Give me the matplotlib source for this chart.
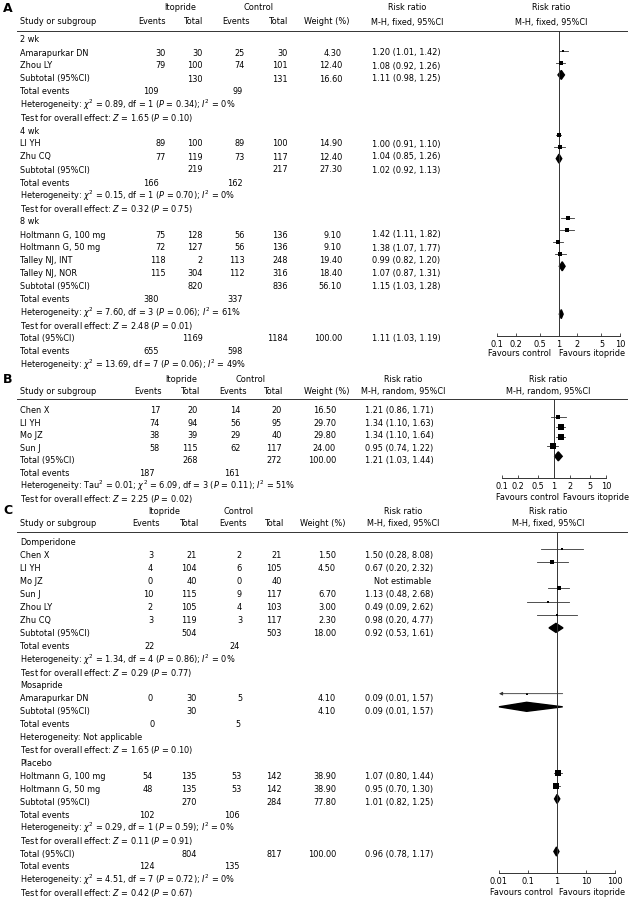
import numpy as np
import matplotlib.pyplot as plt
from matplotlib.patches import Polygon

plt.rcParams['font.family'] = ['DejaVu Sans']
plt.rcParams['mathtext.fontset'] = 'dejavusans'
FS = 5.85
LINE = '#333333'

# ---------------- Panel A: by duration ----------------
A_groups = ["2 wk", "4 wk", "8 wk"]
A_study = [["Amarapurkar DN", "Zhou LY"], ["LI YH", "Zhu CQ"],
           ["Holtmann G, 100 mg", "Holtmann G, 50 mg", "Talley NJ, INT", "Talley NJ, NOR"]]
A_ev_ito = [[30, 79], [89, 77], [75, 72, 118, 115]]
A_n_ito = [[30, 100], [100, 119], [128, 127, 2, 304]]
A_ev_ctl = [[25, 74], [89, 73], [56, 56, 113, 112]]
A_n_ctl = [[30, 101], [100, 117], [136, 136, 248, 316]]
A_weight = [[4.30, 12.40], [14.90, 12.40], [9.10, 9.10, 19.40, 18.40]]
A_rr = [[1.20, 1.08], [1.00, 1.04], [1.42, 1.38, 0.99, 1.07]]
A_lo = [[1.01, 0.92], [0.91, 0.85], [1.11, 1.07, 0.82, 0.87]]
A_hi = [[1.42, 1.26], [1.10, 1.26], [1.82, 1.77, 1.20, 1.31]]
A_sub_n = [(130, 131), (219, 217), (820, 836)]
A_sub_w = [16.60, 27.30, 56.10]
A_sub_rr = [(1.11, 0.98, 1.25), (1.02, 0.92, 1.13), (1.15, 1.03, 1.28)]
A_sub_ev = [(109, 99), (166, 162), (380, 337)]
A_het = [(0.89, 1, 0.34, 0), (0.15, 1, 0.70, 0), (7.60, 3, 0.06, 61)]
A_test = [(1.65, 0.10), (0.32, 0.75), (2.48, 0.01)]
A_tot_n = (1169, 1184)
A_tot_w = 100.00
A_tot_rr = (1.11, 1.03, 1.19)
A_tot_ev = (655, 598)
A_tot_het = (13.69, 7, 0.06, 49)

# ---------------- Panel B: random effects ----------------
B_study = ["Chen X", "LI YH", "Mo JZ", "Sun J"]
B_ev_ito = [17, 74, 38, 58]
B_n_ito = [20, 94, 39, 115]
B_ev_ctl = [14, 56, 29, 62]
B_n_ctl = [20, 95, 40, 117]
B_weight = [16.50, 29.70, 29.80, 24.00]
B_rr = [1.21, 1.34, 1.34, 0.95]
B_lo = [0.86, 1.10, 1.10, 0.74]
B_hi = [1.71, 1.63, 1.64, 1.22]
B_tot_n = (268, 272)
B_tot_w = 100.00
B_tot_rr = (1.21, 1.03, 1.44)
B_tot_ev = (187, 161)
B_tot_het = (6.09, 3, 0.11, 51)
B_tau2 = 0.01
B_test = (2.25, 0.02)

# ---------------- Panel C: by comparator ----------------
C_groups = ["Domperidone", "Mosapride", "Placebo"]
C_study = [["Chen X", "LI YH", "Mo JZ", "Sun J", "Zhou LY", "Zhu CQ"],
           ["Amarapurkar DN"],
           ["Holtmann G, 100 mg", "Holtmann G, 50 mg"]]
C_ev_ito = [[3, 4, 0, 10, 2, 3], [0], [54, 48]]
C_n_ito = [[21, 104, 40, 115, 105, 119], [30], [135, 135]]
C_ev_ctl = [[2, 6, 0, 9, 4, 3], [5], [53, 53]]
C_n_ctl = [[21, 105, 40, 117, 103, 117], [None], [142, 142]]
C_weight = [[1.50, 4.50, None, 6.70, 3.00, 2.30], [4.10], [38.90, 38.90]]
C_rr = [[1.50, 0.67, None, 1.13, 0.49, 0.98], [0.09], [1.07, 0.95]]
C_lo = [[0.28, 0.20, None, 0.48, 0.09, 0.20], [0.01], [0.80, 0.70]]
C_hi = [[8.08, 2.32, None, 2.68, 2.62, 4.77], [1.57], [1.44, 1.30]]
C_sub_n = [(504, 503), (30, None), (270, 284)]
C_sub_w = [18.00, 4.10, 77.80]
C_sub_rr = [(0.92, 0.53, 1.61), (0.09, 0.01, 1.57), (1.01, 0.82, 1.25)]
C_sub_ev = [(22, 24), (0, 5), (102, 106)]
C_het = [(1.34, 4, 0.86, 0), None, (0.29, 1, 0.59, 0)]
C_test = [(0.29, 0.77), (1.65, 0.10), (0.11, 0.91)]
C_tot_n = (804, 817)
C_tot_w = 100.00
C_tot_rr = (0.96, 0.78, 1.17)
C_tot_ev = (124, 135)
C_tot_het = (4.51, 7, 0.72, 0)
C_tot_test = (0.42, 0.67)


def het_str(h, tau=None):
    if h is None:
        return "Heterogeneity: Not applicable"
    chi, df, p, i2 = h
    s = "Heterogeneity: "
    if tau is not None:
        s += "Tau$^2$ = %.2f; " % tau
    return s + r"$\chi^2$ = %.2f, df = %d ($P$ = %.2f); $I^2$ = %d%%" % (chi, df, p, i2)


def test_str(t):
    return r"Test for overall effect: $Z$ = %.2f ($P$ = %.2f)" % t


def study_row(name, ei, ni, ec, nc, w, rr, lo, hi):
    return dict(kind='study', label=name, ei=ei, ni=ni, ec=ec, nc=nc, w=w, rr=rr, lo=lo, hi=hi)


def sum_row(label, n, w, r):
    return dict(kind='sub', label=label, ni=n[0], nc=n[1], w=w, rr=r[0], lo=r[1], hi=r[2])


def grouped_rows(groups, study, ei, ni, ec, nc, w, rr, lo, hi, sn, sw, srr, sev, het, test):
    rows = []
    for g in range(len(groups)):
        rows.append(dict(kind='text', label=groups[g]))
        for k in range(len(study[g])):
            rows.append(study_row(study[g][k], ei[g][k], ni[g][k], ec[g][k], nc[g][k],
                                  w[g][k], rr[g][k], lo[g][k], hi[g][k]))
        rows.append(sum_row("Subtotal (95%CI)", sn[g], sw[g], srr[g]))
        rows.append(dict(kind='events', label="Total events", ei=sev[g][0], ec=sev[g][1]))
        rows.append(dict(kind='text', label=het_str(het[g])))
        rows.append(dict(kind='text', label=test_str(test[g])))
    return rows


rows_A = grouped_rows(A_groups, A_study, A_ev_ito, A_n_ito, A_ev_ctl, A_n_ctl, A_weight,
                      A_rr, A_lo, A_hi, A_sub_n, A_sub_w, A_sub_rr, A_sub_ev, A_het, A_test)
rows_A += [sum_row("Total (95%CI)", A_tot_n, A_tot_w, A_tot_rr),
           dict(kind='events', label="Total events", ei=A_tot_ev[0], ec=A_tot_ev[1]),
           dict(kind='text', label=het_str(A_tot_het))]

rows_B = [study_row(*v) for v in zip(B_study, B_ev_ito, B_n_ito, B_ev_ctl, B_n_ctl,
                                      B_weight, B_rr, B_lo, B_hi)]
rows_B += [sum_row("Total (95%CI)", B_tot_n, B_tot_w, B_tot_rr),
           dict(kind='events', label="Total events", ei=B_tot_ev[0], ec=B_tot_ev[1]),
           dict(kind='text', label=het_str(B_tot_het, B_tau2)),
           dict(kind='text', label=test_str(B_test))]

rows_C = grouped_rows(C_groups, C_study, C_ev_ito, C_n_ito, C_ev_ctl, C_n_ctl, C_weight,
                      C_rr, C_lo, C_hi, C_sub_n, C_sub_w, C_sub_rr, C_sub_ev, C_het, C_test)
rows_C += [sum_row("Total (95%CI)", C_tot_n, C_tot_w, C_tot_rr),
           dict(kind='events', label="Total events", ei=C_tot_ev[0], ec=C_tot_ev[1]),
           dict(kind='text', label=het_str(C_tot_het)),
           dict(kind='text', label=test_str(C_tot_test))]

W, H = 630, 904
fig = plt.figure(figsize=(W / 100, H / 100), dpi=100)
bg = fig.add_axes([0, 0, 1, 1])
bg.set_xlim(0, W)
bg.set_ylim(H, 0)
bg.axis('off')


def txt(x, y, s, ha='left', **kw):
    bg.text(x, y, s, ha=ha, va='center', fontsize=kw.pop('fs', FS), **kw)


def panel(letter, rows, lay):
    y1, y2, yl = lay['hdr']
    txt(3, y1, letter, fs=9, fontweight='bold')
    txt(lay['ito_c'], y1, "Itopride", ha='center')
    txt(lay['ctl_c'], y1, "Control", ha='center')
    txt(lay['rr_c'], y1, "Risk ratio", ha='center')
    txt(lay['pl_c'], y1, "Risk ratio", ha='center')
    txt(20, y2, "Study or subgroup")
    for key, name in zip(['h_ei', 'h_ni', 'h_ec', 'h_nc'], ["Events", "Total", "Events", "Total"]):
        txt(lay[key], y2, name, ha='right')
    txt(lay['h_w'], y2, "Weight (%)", ha='right')
    txt(lay['rr_c'], y2, lay['method'], ha='center')
    txt(lay['pl_c'], y2, lay['method'], ha='center')
    bg.plot([17, 627], [yl, yl], color=LINE, lw=0.7)

    # forest axes, y in figure pixels
    x0, x1, ytop, ybot = lay['box']
    ax = fig.add_axes([x0 / W, 1 - ybot / H, (x1 - x0) / W, (ybot - ytop) / H])
    ax.set_xscale('log')
    ax.set_xlim(lay['xlim'])
    ax.set_ylim(ybot, ytop)
    ax.patch.set_alpha(0)
    for s in ['left', 'right', 'top']:
        ax.spines[s].set_visible(False)
    ax.spines['bottom'].set_color(LINE)
    ax.spines['bottom'].set_linewidth(0.7)
    ax.set_yticks([])
    ax.set_xticks(lay['ticks'])
    ax.set_xticklabels(lay['ticklabels'])
    ax.minorticks_off()
    ax.tick_params(axis='x', direction='in', length=2.5, width=0.6, pad=2,
                   labelsize=FS, color=LINE)
    ax.axvline(1, color=LINE, lw=0.7)

    cx = lay['cols']
    t0, p0, slope = lay['map']
    for i, r in enumerate(rows):
        y = lay['row0'] + i * lay['pitch']
        txt(20, y, r['label'])
        py = p0 + slope * (y - t0)
        if r['kind'] == 'study':
            for key in ['ei', 'ni', 'ec', 'nc']:
                if r[key] is not None:
                    txt(cx[key], y, str(r[key]), ha='right')
            if r['rr'] is None:
                txt(cx['rr'] + 38, y, "Not estimable", ha='center')
                continue
            txt(cx['w'], y, "%.2f" % r['w'], ha='right')
            txt(cx['rr'], y, "%.2f (%.2f, %.2f)" % (r['rr'], r['lo'], r['hi']))
            if r['lo'] <= lay['xlim'][0]:
                ax.annotate('', xy=(lay['xlim'][0], py), xytext=(r['hi'], py),
                            arrowprops=dict(arrowstyle='-|>', lw=0.6, color=LINE,
                                            mutation_scale=5, shrinkA=0, shrinkB=0))
            else:
                ax.plot([r['lo'], r['hi']], [py, py], color=LINE, lw=0.6)
            side = 1.2 + 0.85 * np.sqrt(r['w'])
            ax.plot(r['rr'], py, marker='s', ms=side * 0.72, color='black', mew=0)
        elif r['kind'] == 'sub':
            for key in ['ni', 'nc']:
                if r[key] is not None:
                    txt(cx[key], y, str(r[key]), ha='right')
            txt(cx['w'], y, "%.2f" % r['w'], ha='right')
            txt(cx['rr'], y, "%.2f (%.2f, %.2f)" % (r['rr'], r['lo'], r['hi']))
            h = 4.5
            ax.add_patch(Polygon([(r['lo'], py), (r['rr'], py - h), (r['hi'], py),
                                  (r['rr'], py + h)], closed=True, color='black',
                                 clip_on=False))
        elif r['kind'] == 'events':
            txt(cx['tei'], y, str(r['ei']), ha='right')
            txt(cx['tec'], y, str(r['ec']), ha='right')

    fy = ybot + lay['fav_dy']
    txt(lay['fav'][0], fy, "Favours control", ha='center')
    txt(lay['fav'][1], fy, "Favours itopride", ha='center')


lay_A = dict(hdr=(8, 22, 31.5), ito_c=180, ctl_c=258, rr_c=407, pl_c=551,
             h_ei=166, h_ni=203, h_ec=250, h_nc=288, h_w=350, method="M-H, fixed, 95%CI",
             box=(497, 620, 31.5, 337), xlim=(0.1, 10), ticks=[0.1, 0.2, 0.5, 1, 2, 5, 10],
             ticklabels=["0.1", "0.2", "0.5", "1", "2", "5", "10"],
             cols=dict(ei=166, ni=203, ec=245, nc=288, tei=159, tec=243, w=342, rr=372),
             row0=40, pitch=13.0, map=(53, 52, 0.92), fav=(519, 592), fav_dy=17)

lay_B = dict(hdr=(380, 392, 399.5), ito_c=181, ctl_c=250, rr_c=403, pl_c=548,
             h_ei=162, h_ni=200, h_ec=247, h_nc=283, h_w=349, method="M-H, random, 95%CI",
             box=(502, 606, 399.5, 479), xlim=(0.1, 10), ticks=[0.1, 0.2, 0.5, 1, 2, 5, 10],
             ticklabels=["0.1", "0.2", "0.5", "1", "2", "5", "10"],
             cols=dict(ei=160, ni=198, ec=241, nc=282, tei=155, tec=240, w=336, rr=365),
             row0=410.5, pitch=12.6, map=(410.5, 418, 0.78), fav=(527, 596), fav_dy=19)

lay_C = dict(hdr=(511, 524, 533), ito_c=164, ctl_c=238, rr_c=403, pl_c=548,
             h_ei=160, h_ni=199, h_ec=247, h_nc=284, h_w=345, method="M-H, fixed, 95%CI",
             box=(499, 615, 533, 874), xlim=(0.01, 100), ticks=[0.01, 0.1, 1, 10, 100],
             ticklabels=["0.01", "0.1", "1", "10", "100"],
             cols=dict(ei=153, ni=197, ec=242, nc=282, tei=155, tec=240, w=336, rr=365),
             row0=543, pitch=12.96, map=(556, 550, 1.015), fav=(521, 592), fav_dy=19)

panel("A", rows_A, lay_A)
panel("B", rows_B, lay_B)
panel("C", rows_C, lay_C)

fig.savefig("out.png", dpi=100)
